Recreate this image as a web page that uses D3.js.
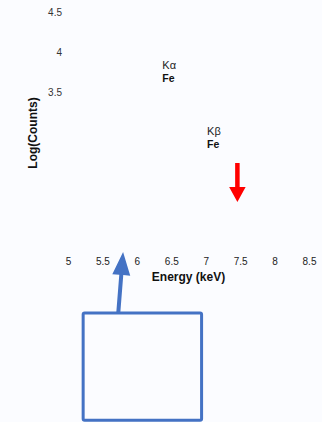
<!DOCTYPE html>
<html><head><meta charset="utf-8">
<script src="https://cdn.jsdelivr.net/npm/d3@7"></script>
<style>
html,body{margin:0;padding:0;background:#fbfcff;}
svg{display:block;}
text{font-family:"Liberation Sans",Arial,sans-serif;}
</style></head>
<body>
<script>
// ---- data ----
const xTicks = [5, 5.5, 6, 6.5, 7, 7.5, 8, 8.5];
const yTicks = [3.5, 4, 4.5];
const xLabel = "Energy (keV)";
const yLabel = "Log(Counts)";
const peakNames = ["K\u03b1", "K\u03b2"];
const peakElements = ["Fe", "Fe"];
const peakEnergy = [6.37, 7.02];
const peakLogCounts = [3.79, 2.96];
// red arrow (energy, tail -> tip log counts)
const redArrowEnergy = 7.46;
const redArrowLog = [2.607, 2.116];
// blue arrow from box to axis (energy, log)
const blueArrowFrom = [5.73, 0.72];
const blueArrowTo = [5.80, 1.487];
const blueBoxEnergy = [5.22, 6.94];
const blueBoxLog = [0.72, -0.63];

const W = 322, H = 422;
const x = d3.scaleLinear().domain([5, 8.5]).range([68, 309]);
const y = d3.scaleLinear().domain([3.5, 4.5]).range([92, 12.5]);

const svg = d3.select("body").append("svg").attr("width", W).attr("height", H);

// y tick labels
const yAxis = d3.axisLeft(y).tickValues(yTicks).tickSize(0).tickPadding(0)
  .tickFormat(d => String(d));
const gy = svg.append("g").attr("transform", "translate(62,0)").call(yAxis);
gy.select(".domain").remove();
gy.selectAll("text").attr("font-size", 10).attr("fill", "#333")
  .style("font-family", '"Liberation Sans",Arial,sans-serif');

// x tick labels
const xAxis = d3.axisBottom(x).tickValues(xTicks).tickSize(0).tickPadding(0)
  .tickFormat(d => String(d));
const gx = svg.append("g").attr("transform", "translate(0,258)").call(xAxis);
gx.select(".domain").remove();
gx.selectAll("text").attr("font-size", 10).attr("fill", "#222")
  .style("font-family", '"Liberation Sans",Arial,sans-serif');

// axis titles
svg.append("text").attr("x", (x.range()[0] + x.range()[1]) / 2).attr("y", 281)
  .attr("text-anchor", "middle").attr("font-size", 12).attr("font-weight", "bold")
  .attr("fill", "#111").text(xLabel);
svg.append("text").attr("transform", "translate(37,133) rotate(-90)")
  .attr("text-anchor", "middle").attr("font-size", 12).attr("font-weight", "bold")
  .attr("fill", "#111").text(yLabel);

// peak labels
peakNames.forEach((n, i) => {
  const g = svg.append("g");
  g.append("text").attr("x", x(peakEnergy[i])).attr("y", y(peakLogCounts[i]))
    .attr("font-size", 11).attr("fill", "#222").text(n);
  g.append("text").attr("x", x(peakEnergy[i])).attr("y", y(peakLogCounts[i]) + 13.5)
    .attr("font-size", 10.5).attr("font-weight", "bold").attr("fill", "#111").text(peakElements[i]);
});

// arrow polygon builder
function arrow(x0, y0, x1, y1, shaftW, headW, headL) {
  const dx = x1 - x0, dy = y1 - y0, L = Math.hypot(dx, dy);
  const ux = dx / L, uy = dy / L, px = -uy, py = ux;
  const bx = x1 - ux * headL, by = y1 - uy * headL;
  const pts = [
    [x0 + px * shaftW / 2, y0 + py * shaftW / 2],
    [bx + px * shaftW / 2, by + py * shaftW / 2],
    [bx + px * headW / 2, by + py * headW / 2],
    [x1, y1],
    [bx - px * headW / 2, by - py * headW / 2],
    [bx - px * shaftW / 2, by - py * shaftW / 2],
    [x0 - px * shaftW / 2, y0 - py * shaftW / 2]
  ];
  return "M" + pts.map(p => p.join(",")).join("L") + "Z";
}

// red arrow
svg.append("path")
  .attr("d", arrow(x(redArrowEnergy), y(redArrowLog[0]), x(redArrowEnergy), y(redArrowLog[1]), 4.5, 16.5, 15))
  .attr("fill", "#ff0000");

// blue box
svg.append("rect")
  .attr("x", x(blueBoxEnergy[0])).attr("y", y(blueBoxLog[0]))
  .attr("width", x(blueBoxEnergy[1]) - x(blueBoxEnergy[0]))
  .attr("height", y(blueBoxLog[1]) - y(blueBoxLog[0]))
  .attr("rx", 1.5)
  .attr("fill", "none").attr("stroke", "#4472c4").attr("stroke-width", 3);

// blue arrow
svg.append("path")
  .attr("d", arrow(x(blueArrowFrom[0]), y(blueArrowFrom[1]), x(blueArrowTo[0]), y(blueArrowTo[1]), 4, 18, 23))
  .attr("fill", "#4472c4");
</script>
</body></html>
